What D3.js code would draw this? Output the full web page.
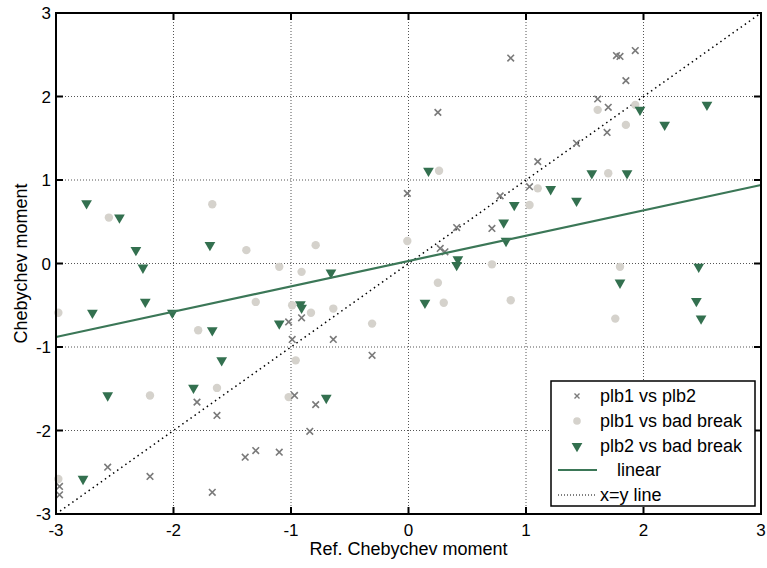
<!DOCTYPE html>
<html>
<head>
  <script src="https://d3js.org/d3.v7.min.js"></script>
  <style>
    html, body { margin: 0; padding: 0; background: #fff; }
    svg text { font-family: Arial, "Liberation Sans", sans-serif; fill: #000; }
    .tick-label { font-size: 17px; }
    .axisLabel { font-size: 18px; }
    .legend-text { font-size: 18px; }
  </style>
</head>
<body>
  <div id="chart"></div>
  <script>
    // plb1 vs plb2 (grey crosses)
    const crossX = [0.87, 1.77, 1.80, 1.93, 1.85, 1.61, 1.70, 1.69, 1.43, 1.10, 1.03, 0.25, -0.01, 0.78,
      0.41, 0.71, 0.27, 0.31, -1.02, -0.91, -0.99, -0.64, -0.31, -0.97, -0.79, -0.84, -1.30, -1.10,
      -1.80, -1.63, -1.39, -2.56, -2.20, -1.67, -2.97, -2.97];
    const crossY = [2.46, 2.49, 2.48, 2.55, 2.19, 1.97, 1.87, 1.57, 1.44, 1.22, 0.92, 1.81, 0.84, 0.81,
      0.43, 0.42, 0.18, 0.14, -0.70, -0.65, -0.91, -0.91, -1.10, -1.58, -1.69, -2.01, -2.24, -2.26,
      -1.66, -1.82, -2.32, -2.44, -2.55, -2.74, -2.67, -2.77];

    // plb1 vs bad break (light circles)
    const circleX = [0.26, 1.61, 1.93, 1.85, 1.70, 1.10, 1.03, 1.80, 0.87, 1.76, -0.01, -0.79, -1.10,
      -0.91, -1.30, -0.99, -0.83, -0.64, -0.31, -0.96, 0.25, 0.30, 0.71, -1.67, -2.55, -1.38, -2.98,
      -1.79, -2.20, -1.63, -2.98, -1.02];
    const circleY = [1.11, 1.84, 1.90, 1.66, 1.08, 0.90, 0.70, -0.04, -0.44, -0.66, 0.27, 0.22, -0.04,
      -0.10, -0.46, -0.50, -0.59, -0.54, -0.72, -1.16, -0.23, -0.47, -0.01, 0.71, 0.55, 0.16, -0.59,
      -0.80, -1.58, -1.49, -2.58, -1.60];

    // plb2 vs bad break (green triangles)
    const triX = [0.17, 1.97, 2.54, 2.18, 1.56, 1.86, 1.21, 1.43, 0.90, 0.81, 0.83, 2.47, 1.80, 2.45,
      2.49, 0.42, 0.41, 0.14, -0.66, -0.92, -0.91, -1.10, -2.74, -2.46, -2.32, -2.26, -1.69, -2.24,
      -2.69, -2.01, -1.67, -1.59, -2.56, -1.83, -2.77, -0.70];
    const triY = [1.11, 1.84, 1.90, 1.66, 1.08, 1.08, 0.89, 0.75, 0.70, 0.49, 0.27, -0.04, -0.23, -0.45,
      -0.66, 0.05, -0.02, -0.47, -0.11, -0.49, -0.53, -0.72, 0.72, 0.55, 0.16, -0.05, 0.22, -0.46,
      -0.59, -0.59, -0.80, -1.16, -1.58, -1.49, -2.58, -1.61];

    // lines
    const fitX = [-3, 3];
    const fitY = [-0.88, 0.94];
    const diagX = [-3, 3];
    const diagY = [-3, 3];

    const tickValues = [-3, -2, -1, 0, 1, 2, 3];
    const legendLabels = ["plb1 vs plb2", "plb1 vs bad break", "plb2 vs bad break", "linear", "x=y line"];

    const width = 767, height = 568;
    const margin = {top: 13, left: 56, right: 6, bottom: 54};

    const crossColor = "#7a7a7a";
    const circleColor = "#d5d2cc";
    const triColor = "#33704f";
    const lineColor = "#3b7757";

    const svg = d3.select("#chart").append("svg")
      .attr("width", width)
      .attr("height", height);

    const xScale = d3.scaleLinear().domain([-3, 3]).range([margin.left, width - margin.right]);
    const yScale = d3.scaleLinear().domain([-3, 3]).range([height - margin.bottom, margin.top]);

    const x0 = xScale.range()[0], x1 = xScale.range()[1];
    const y0 = yScale.range()[0], y1 = yScale.range()[1];

    // grid
    const grid = svg.append("g");
    grid.selectAll(".vgrid").data(tickValues.slice(1, -1)).enter().append("line")
      .attr("x1", d => xScale(d)).attr("x2", d => xScale(d))
      .attr("y1", y1).attr("y2", y0)
      .attr("stroke", "#555").attr("stroke-width", 1).attr("stroke-dasharray", "1,2");
    grid.selectAll(".hgrid").data(tickValues.slice(1, -1)).enter().append("line")
      .attr("y1", d => yScale(d)).attr("y2", d => yScale(d))
      .attr("x1", x0).attr("x2", x1)
      .attr("stroke", "#555").attr("stroke-width", 1).attr("stroke-dasharray", "1,2");

    // x=y line
    const line = d3.line().x(d => xScale(d[0])).y(d => yScale(d[1]));
    svg.append("path")
      .attr("d", line(d3.zip(diagX, diagY)))
      .attr("fill", "none").attr("stroke", "#000").attr("stroke-width", 1.5)
      .attr("stroke-dasharray", "1.5,3.5");

    // markers
    svg.append("g").selectAll("circle")
      .data(d3.zip(circleX, circleY)).enter().append("circle")
      .attr("cx", d => xScale(d[0])).attr("cy", d => yScale(d[1]))
      .attr("r", 4.2).attr("fill", circleColor);

    const tri = d3.symbol().type(d3.symbolTriangle).size(50);
    svg.append("g").selectAll("path")
      .data(d3.zip(triX, triY)).enter().append("path")
      .attr("d", tri)
      .attr("transform", d => `translate(${xScale(d[0])},${yScale(d[1])}) rotate(180)`)
      .attr("fill", triColor);

    const crossPath = "M-3.3,-3.3L3.3,3.3M-3.3,3.3L3.3,-3.3";
    svg.append("g").selectAll("path")
      .data(d3.zip(crossX, crossY)).enter().append("path")
      .attr("d", crossPath)
      .attr("transform", d => `translate(${xScale(d[0])},${yScale(d[1])})`)
      .attr("stroke", crossColor).attr("stroke-width", 1.6).attr("fill", "none");

    // linear fit
    svg.append("path")
      .attr("d", line(d3.zip(fitX, fitY)))
      .attr("fill", "none").attr("stroke", lineColor).attr("stroke-width", 2.2);

    // axes box + ticks
    const axes = svg.append("g");
    axes.append("rect")
      .attr("x", x0).attr("y", y1).attr("width", x1 - x0).attr("height", y0 - y1)
      .attr("fill", "none").attr("stroke", "#000").attr("stroke-width", 2);

    const tl = 7;
    tickValues.forEach(v => {
      axes.append("line").attr("x1", xScale(v)).attr("x2", xScale(v)).attr("y1", y0).attr("y2", y0 - tl)
        .attr("stroke", "#000").attr("stroke-width", 2);
      axes.append("line").attr("x1", xScale(v)).attr("x2", xScale(v)).attr("y1", y1).attr("y2", y1 + tl)
        .attr("stroke", "#000").attr("stroke-width", 2);
      axes.append("line").attr("y1", yScale(v)).attr("y2", yScale(v)).attr("x1", x0).attr("x2", x0 + tl)
        .attr("stroke", "#000").attr("stroke-width", 2);
      axes.append("line").attr("y1", yScale(v)).attr("y2", yScale(v)).attr("x1", x1).attr("x2", x1 - tl)
        .attr("stroke", "#000").attr("stroke-width", 2);
    });

    axes.selectAll(".xt").data(tickValues).enter().append("text")
      .attr("class", "tick-label")
      .attr("x", d => xScale(d)).attr("y", y0 + 22)
      .attr("text-anchor", "middle")
      .text(d => d);
    axes.selectAll(".yt").data(tickValues).enter().append("text")
      .attr("class", "tick-label")
      .attr("x", x0 - 5).attr("y", d => yScale(d) + 6)
      .attr("text-anchor", "end")
      .text(d => d);

    svg.append("text").attr("class", "axisLabel")
      .attr("x", (x0 + x1) / 2).attr("y", 555)
      .attr("text-anchor", "middle")
      .text("Ref. Chebychev moment");
    svg.append("text").attr("class", "axisLabel")
      .attr("transform", `translate(27,${(y0 + y1) / 2}) rotate(-90)`)
      .attr("text-anchor", "middle")
      .text("Chebychev moment");

    // legend
    const lg = svg.append("g");
    lg.append("rect").attr("x", 551).attr("y", 381).attr("width", 204).attr("height", 125)
      .attr("fill", "#fff").attr("stroke", "#000").attr("stroke-width", 1.5);
    const rowY = [396, 421, 446, 470, 495];
    lg.append("path").attr("d", "M-2.5,-2.5L2.5,2.5M-2.5,2.5L2.5,-2.5")
      .attr("transform", `translate(577,${rowY[0]})`)
      .attr("stroke", crossColor).attr("stroke-width", 1.4);
    lg.append("circle").attr("cx", 577).attr("cy", rowY[1]).attr("r", 3.8).attr("fill", circleColor);
    lg.append("path").attr("d", tri).attr("transform", `translate(577,${rowY[2]}) rotate(180)`)
      .attr("fill", triColor);
    lg.append("line").attr("x1", 558).attr("x2", 597).attr("y1", rowY[3]).attr("y2", rowY[3])
      .attr("stroke", lineColor).attr("stroke-width", 2);
    lg.append("line").attr("x1", 558).attr("x2", 597).attr("y1", rowY[4]).attr("y2", rowY[4])
      .attr("stroke", "#000").attr("stroke-width", 1).attr("stroke-dasharray", "1,2");
    const textX = [600, 600, 600, 617, 600];
    legendLabels.forEach((t, i) => {
      lg.append("text").attr("class", "legend-text")
        .attr("x", textX[i]).attr("y", rowY[i] + 6)
        .text(t);
    });
  </script>
</body>
</html>
